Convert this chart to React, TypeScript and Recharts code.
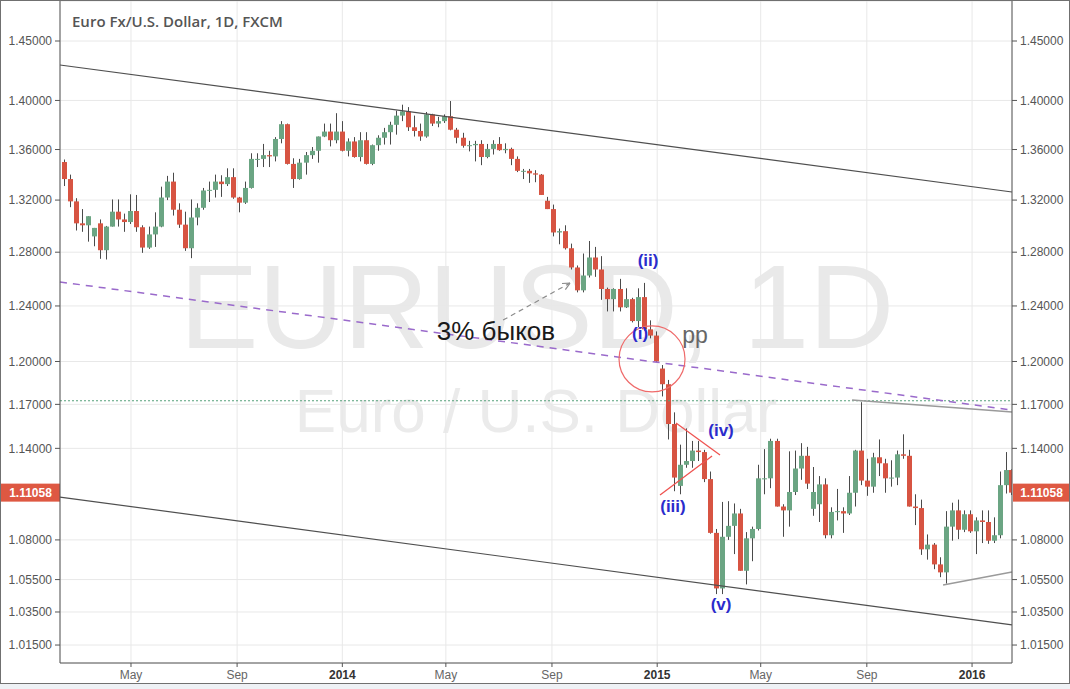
import React from 'react';
import { ComposedChart, Bar, XAxis, YAxis, CartesianGrid, ReferenceLine, ReferenceDot } from 'recharts';

// Weekly candles (week starting Monday), first week 2013-02-11, last week 2016-02-15
const opens = [
  // 2013
  1.3500, 1.3365, 1.3190, 1.3020, 1.3005, 1.2920, 1.3020, 1.2815, 1.2995, 1.3110,
  1.3050, 1.3030, 1.3115, 1.2990, 1.2835, 1.2935, 1.2995, 1.3220, 1.3345, 1.3125,
  1.3010, 1.2830, 1.3065, 1.3140, 1.3275, 1.3280, 1.3345, 1.3325, 1.3380, 1.3220,
  1.3180, 1.3295, 1.3525, 1.3525, 1.3555, 1.3545, 1.3685, 1.3805, 1.3485, 1.3365,
  1.3495, 1.3555, 1.3590, 1.3705, 1.3745, 1.3675, 1.3745,
  // 2014
  1.3590, 1.3665, 1.3540, 1.3675, 1.3485, 1.3635, 1.3695, 1.3740, 1.3800, 1.3875,
  1.3910, 1.3780, 1.3750, 1.3705, 1.3885, 1.3810, 1.3830, 1.3870, 1.3760, 1.3695,
  1.3630, 1.3635, 1.3645, 1.3540, 1.3605, 1.3645, 1.3595, 1.3605, 1.3525, 1.3430,
  1.3430, 1.3410, 1.3400, 1.3195, 1.3130, 1.2950, 1.2960, 1.2830, 1.2685, 1.2515,
  1.2625, 1.2760, 1.2670, 1.2525, 1.2450, 1.2525, 1.2390, 1.2450, 1.2290, 1.2465,
  1.2230, 1.2185,
  // 2015
  1.1950, 1.1840, 1.1565, 1.1150, 1.1290, 1.1315, 1.1385, 1.1375, 1.1195, 1.0845,
  1.0495, 1.0820, 1.0890, 1.0970, 1.0605, 1.0810, 1.0870, 1.1200, 1.1200, 1.1450,
  1.1015, 1.0990, 1.1110, 1.1265, 1.1350, 1.1000, 1.1030, 1.1160, 1.0830, 1.0980,
  1.0985, 1.0970, 1.1105, 1.1385, 1.1185, 1.1145, 1.1340, 1.1300, 1.1200, 1.1205,
  1.1360, 1.1350, 1.1015, 1.1005, 1.0740, 1.0770, 1.0645, 1.0595, 1.0885, 1.0990,
  1.0865, 1.0965,
  // 2016
  1.0855, 1.0925, 1.0915, 1.0795, 1.0830, 1.1155, 1.1255,
];

const highs = [
  // 2013
  1.3520, 1.3400, 1.3215, 1.3130, 1.3075, 1.2985, 1.3050, 1.3000, 1.3205, 1.3205,
  1.3095, 1.3245, 1.3240, 1.3005, 1.2995, 1.3105, 1.3305, 1.3390, 1.3415, 1.3175,
  1.3110, 1.3205, 1.3175, 1.3295, 1.3345, 1.3400, 1.3395, 1.3450, 1.3450, 1.3225,
  1.3345, 1.3570, 1.3570, 1.3645, 1.3590, 1.3700, 1.3830, 1.3810, 1.3530, 1.3525,
  1.3580, 1.3620, 1.3705, 1.3810, 1.3810, 1.3895, 1.3830,
  // 2014
  1.3690, 1.3700, 1.3740, 1.3740, 1.3640, 1.3715, 1.3775, 1.3825, 1.3915, 1.3965,
  1.3945, 1.3875, 1.3810, 1.3905, 1.3890, 1.3865, 1.3885, 1.3995, 1.3775, 1.3735,
  1.3670, 1.3670, 1.3675, 1.3645, 1.3675, 1.3700, 1.3650, 1.3615, 1.3545, 1.3445,
  1.3445, 1.3435, 1.3405, 1.3225, 1.3165, 1.2980, 1.3005, 1.2865, 1.2700, 1.2790,
  1.2885, 1.2840, 1.2770, 1.2535, 1.2530, 1.2600, 1.2530, 1.2460, 1.2530, 1.2570,
  1.2295, 1.2215,
  // 2015
  1.1975, 1.1870, 1.1645, 1.1425, 1.1535, 1.1450, 1.1450, 1.1390, 1.1245, 1.0870,
  1.1045, 1.1050, 1.1035, 1.1000, 1.0850, 1.0885, 1.1290, 1.1395, 1.1465, 1.1465,
  1.1030, 1.1380, 1.1385, 1.1435, 1.1410, 1.1275, 1.1215, 1.1200, 1.1010, 1.1130,
  1.1010, 1.1215, 1.1390, 1.1715, 1.1330, 1.1370, 1.1460, 1.1330, 1.1320, 1.1385,
  1.1495, 1.1390, 1.1095, 1.1060, 1.0835, 1.0780, 1.0690, 1.0985, 1.1040, 1.1060,
  1.0990, 1.0990,
  // 2016
  1.0945, 1.0990, 1.0990, 1.0945, 1.1245, 1.1375, 1.1260,
];

const lows = [
  // 2013
  1.3310, 1.3145, 1.2965, 1.2955, 1.2880, 1.2845, 1.2750, 1.2745, 1.2995, 1.2995,
  1.2955, 1.3015, 1.2955, 1.2795, 1.2825, 1.2840, 1.2990, 1.3200, 1.3080, 1.2985,
  1.2810, 1.2755, 1.3005, 1.3125, 1.3185, 1.3220, 1.3225, 1.3310, 1.3210, 1.3105,
  1.3170, 1.3290, 1.3460, 1.3460, 1.3460, 1.3505, 1.3650, 1.3480, 1.3295, 1.3360,
  1.3400, 1.3525, 1.3495, 1.3700, 1.3625, 1.3650, 1.3585,
  // 2014
  1.3545, 1.3535, 1.3505, 1.3480, 1.3475, 1.3590, 1.3640, 1.3640, 1.3720, 1.3830,
  1.3750, 1.3705, 1.3670, 1.3695, 1.3790, 1.3780, 1.3815, 1.3755, 1.3650, 1.3615,
  1.3585, 1.3505, 1.3475, 1.3530, 1.3560, 1.3590, 1.3570, 1.3475, 1.3420, 1.3365,
  1.3335, 1.3340, 1.3240, 1.3130, 1.2920, 1.2860, 1.2820, 1.2670, 1.2500, 1.2500,
  1.2610, 1.2615, 1.2445, 1.2360, 1.2360, 1.2360, 1.2385, 1.2280, 1.2245, 1.2220,
  1.2165, 1.1995,
  // 2015
  1.1755, 1.1460, 1.1115, 1.1095, 1.1270, 1.1270, 1.1315, 1.1175, 1.0840, 1.0460,
  1.0460, 1.0800, 1.0710, 1.0605, 1.0520, 1.0665, 1.0860, 1.1095, 1.1135, 1.1015,
  1.0820, 1.0885, 1.1090, 1.1190, 1.1130, 1.0955, 1.0915, 1.0810, 1.0810, 1.0925,
  1.0845, 1.0960, 1.1015, 1.1155, 1.1085, 1.1105, 1.1215, 1.1105, 1.1145, 1.1155,
  1.1330, 1.1015, 1.0895, 1.0705, 1.0675, 1.0615, 1.0565, 1.0525, 1.0795, 1.0805,
  1.0850, 1.0845,
  // 2016
  1.0710, 1.0780, 1.0775, 1.0780, 1.0810, 1.1100, 1.1090,
];

const closes = [
  // 2013
  1.3365, 1.3190, 1.3020, 1.3005, 1.3075, 1.2985, 1.2815, 1.2995, 1.3110, 1.3050,
  1.3030, 1.3115, 1.2990, 1.2835, 1.2935, 1.2995, 1.3220, 1.3345, 1.3125, 1.3010,
  1.2830, 1.3065, 1.3140, 1.3275, 1.3280, 1.3345, 1.3325, 1.3380, 1.3220, 1.3180,
  1.3295, 1.3525, 1.3525, 1.3555, 1.3545, 1.3685, 1.3805, 1.3485, 1.3365, 1.3495,
  1.3555, 1.3590, 1.3705, 1.3745, 1.3675, 1.3745, 1.3590,
  // 2014
  1.3665, 1.3540, 1.3675, 1.3485, 1.3635, 1.3695, 1.3740, 1.3800, 1.3875, 1.3910,
  1.3780, 1.3750, 1.3705, 1.3885, 1.3810, 1.3830, 1.3870, 1.3760, 1.3695, 1.3630,
  1.3635, 1.3645, 1.3540, 1.3605, 1.3645, 1.3595, 1.3605, 1.3525, 1.3430, 1.3430,
  1.3410, 1.3400, 1.3240, 1.3130, 1.2950, 1.2960, 1.2830, 1.2685, 1.2515, 1.2625,
  1.2760, 1.2670, 1.2525, 1.2450, 1.2525, 1.2390, 1.2450, 1.2290, 1.2465, 1.2230,
  1.2185, 1.2000,
  // 2015
  1.1840, 1.1565, 1.1205, 1.1290, 1.1315, 1.1385, 1.1375, 1.1195, 1.0845, 1.0495,
  1.0820, 1.0890, 1.0970, 1.0605, 1.0810, 1.0870, 1.1200, 1.1200, 1.1450, 1.1015,
  1.0990, 1.1110, 1.1265, 1.1350, 1.1165, 1.1110, 1.1160, 1.0830, 1.0980, 1.0985,
  1.0970, 1.1105, 1.1385, 1.1185, 1.1145, 1.1340, 1.1300, 1.1200, 1.1205, 1.1360,
  1.1350, 1.1015, 1.1005, 1.0740, 1.0770, 1.0645, 1.0595, 1.0885, 1.0990, 1.0865,
  1.0965, 1.0855,
  // 2016
  1.0925, 1.0915, 1.0795, 1.0830, 1.1155, 1.1255, 1.11058,
];

// axis ticks
const priceTicks = [1.015, 1.035, 1.055, 1.08, 1.14, 1.17, 1.2, 1.24, 1.28, 1.32, 1.36, 1.4, 1.45];
const monthTickDays = [120, 243, 365, 485, 608, 730, 850, 973, 1095]; // days since 2013-01-01
const monthTickLabels = ['May', 'Sep', '2014', 'May', 'Sep', '2015', 'May', 'Sep', '2016'];
const lastPrice = 1.11058;

const X_DOMAIN: [number, number] = [37.7, 1141.3];
const Y_DOMAIN: [number, number] = [1.00429, 1.48467];
const FIRST_MONDAY = 41; // 2013-02-11

// drawing annotations (day, price)
const upperChannel = [{ x: 37.7, y: 1.4296 }, { x: 1141.3, y: 1.3263 }];
const lowerChannel = [{ x: 37.7, y: 1.1077 }, { x: 1141.3, y: 1.0271 }];
const purpleLine = [{ x: 37.7, y: 1.2577 }, { x: 1141.3, y: 1.1661 }];
const greenLevel = 1.1725;
const grayTop = [{ x: 955.9, y: 1.173 }, { x: 1141.3, y: 1.1647 }];
const grayBottom = [{ x: 1061.4, y: 1.0516 }, { x: 1141.3, y: 1.0597 }];
const triUpper = [{ x: 751.8, y: 1.1572 }, { x: 802.8, y: 1.1355 }];
const triLower = [{ x: 733.3, y: 1.109 }, { x: 793.6, y: 1.1349 }];
const arrowSeg = [{ x: 551.3, y: 1.2297 }, { x: 628.9, y: 1.2569 }];
const circleCenter = { x: 724.0, y: 1.2018 };
const waveLabels = [
  { text: '(ii)', x: 719.4, y: 1.2734 },
  { text: '(i)', x: 710.1, y: 1.2203 },
  { text: '(iii)', x: 748.3, y: 1.1012 },
  { text: '(iv)', x: 804.0, y: 1.1524 },
  { text: '(v)', x: 804.0, y: 1.0393 },
];
const bullsNote = { text: '3% быков', x: 543.1, y: 1.2218 };
const ppNote = { text: 'pp', x: 773.9, y: 1.2189 };

const data = closes.map((c, i) => ({
  day: Math.min(FIRST_MONDAY + 2 + 7 * i, 1141),
  open: opens[i],
  high: highs[i],
  low: lows[i],
  close: c,
  range: [lows[i], highs[i]],
}));

const UP = '#6ba583';
const DOWN = '#d75442';
const WICK = '#4a4a4a';
const TAG = '#de5842';
const AXIS_FONT = "'Liberation Sans', Arial, sans-serif";

function Candle(props: any) {
  const { x, y, width, height, payload } = props;
  if (x == null || y == null || !payload) return null;
  const top = height < 0 ? y + height : y;
  const h = Math.abs(height);
  const lh = Math.log(payload.high);
  const ll = Math.log(payload.low);
  const span = lh - ll || 1e-9;
  const py = (v: number) => top + (h * (lh - Math.log(v))) / span;
  const yo = py(payload.open);
  const yc = py(payload.close);
  const up = payload.close >= payload.open;
  const bt = Math.min(yo, yc);
  const bh = Math.max(1, Math.abs(yc - yo));
  const rx = Math.round(x);
  const cx = rx + Math.floor(width / 2) + 0.5;
  return (
    <g>
      <line x1={cx} x2={cx} y1={top} y2={top + h} stroke={WICK} strokeWidth={1} />
      <rect x={rx} y={bt} width={width} height={bh} fill={up ? UP : DOWN} />
    </g>
  );
}

function MonthTick(p: any) {
  const { x, y, payload } = p;
  const i = monthTickDays.indexOf(payload.value);
  const label = i >= 0 ? monthTickLabels[i] : '';
  const isYear = /^\d{4}$/.test(label);
  return (
    <text x={x} y={y} dy={10} textAnchor="middle" fontSize={12} fontFamily={AXIS_FONT}
      fill={isYear ? '#333' : '#666'} fontWeight={isYear ? 'bold' : 'normal'}>
      {label}
    </text>
  );
}

function PriceTags(p: any) {
  const y = p.y1;
  const xl = p.x1;
  const xr = p.x2;
  if (y == null) return null;
  return (
    <g>
      <rect x={1} y={y - 9} width={xl - 1} height={18} fill={TAG} />
      <text x={(xl + 1) / 2} y={y} dy="0.36em" textAnchor="middle" fill="#fff" fontSize={12}
        fontWeight="bold" fontFamily={AXIS_FONT}>{lastPrice.toFixed(5)}</text>
      <rect x={xr + 1} y={y - 9} width={57} height={18} fill={TAG} />
      <text x={xr + 29.5} y={y} dy="0.36em" textAnchor="middle" fill="#fff" fontSize={12}
        fontWeight="bold" fontFamily={AXIS_FONT}>{lastPrice.toFixed(5)}</text>
    </g>
  );
}

function ArrowShape(p: any) {
  const { x1, y1, x2, y2 } = p;
  if (x1 == null) return null;
  const a = Math.atan2(y2 - y1, x2 - x1);
  const L = 8;
  return (
    <g stroke="#8c8c8c" strokeWidth={1.2} fill="none">
      <line x1={x1} y1={y1} x2={x2} y2={y2} strokeDasharray="5 4" />
      <line x1={x2} y1={y2} x2={x2 - L * Math.cos(a - 0.45)} y2={y2 - L * Math.sin(a - 0.45)} />
      <line x1={x2} y1={y2} x2={x2 - L * Math.cos(a + 0.45)} y2={y2 - L * Math.sin(a + 0.45)} />
    </g>
  );
}

const textShape = (text: string, style: any) => (p: any) =>
  p.cx == null ? null : (
    <text x={p.cx} y={p.cy} textAnchor="middle" dominantBaseline="central" {...style}>{text}</text>
  );

export default function App() {
  return (
    <div style={{ position: 'absolute', left: 0, top: 0, width: 1070, height: 689, background: '#eef1f5', overflow: 'hidden' }}>
      <div style={{ position: 'absolute', left: 0, top: 0, width: 1070, height: 684, background: '#ffffff' }} />
      <svg width={1070} height={689} style={{ position: 'absolute', left: 0, top: 0 }}>
        <text x={537} y={348} textAnchor="middle" fontSize={118} fontFamily={AXIS_FONT} fill="#e9e9e9">EURUSD, 1D</text>
        <text x={536} y={432} textAnchor="middle" fontSize={62} fontFamily={AXIS_FONT} fill="#ebebeb">Euro / U.S. Dollar</text>
      </svg>
      <div style={{ position: 'absolute', left: 0, top: 0 }}>
        <ComposedChart width={1070} height={689} data={data} margin={{ top: 1, right: 0, bottom: 5, left: 0 }}>
          <CartesianGrid yAxisId="left" stroke="#e8e8e8" />
          <XAxis type="number" dataKey="day" domain={X_DOMAIN} allowDataOverflow ticks={monthTickDays}
            interval={0} tick={<MonthTick />} tickSize={4} height={21}
            axisLine={{ stroke: '#555' }} tickLine={{ stroke: '#555' }} />
          <YAxis yAxisId="left" orientation="left" scale="log" domain={Y_DOMAIN} allowDataOverflow
            ticks={priceTicks} interval={0} tickFormatter={(v: number) => v.toFixed(5)} width={60}
            tick={{ fontSize: 12, fill: '#555', fontFamily: AXIS_FONT }} tickSize={5} tickMargin={3}
            axisLine={{ stroke: '#555' }} tickLine={{ stroke: '#555' }} />
          <YAxis yAxisId="right" orientation="right" scale="log" domain={Y_DOMAIN} allowDataOverflow
            ticks={priceTicks} interval={0} tickFormatter={(v: number) => v.toFixed(5)} width={58}
            tick={{ fontSize: 12, fill: '#555', fontFamily: AXIS_FONT }} tickSize={5} tickMargin={3}
            axisLine={{ stroke: '#555' }} tickLine={{ stroke: '#555' }} />

          <ReferenceLine yAxisId="left" y={greenLevel} stroke="#55a07a" strokeDasharray="2 2" ifOverflow="visible" />
          <ReferenceLine yAxisId="left" segment={upperChannel} stroke="#4f4f4f" strokeWidth={1.2} ifOverflow="visible" />
          <ReferenceLine yAxisId="left" segment={lowerChannel} stroke="#4f4f4f" strokeWidth={1.2} ifOverflow="visible" />
          <ReferenceLine yAxisId="left" segment={purpleLine} stroke="#9a6acb" strokeWidth={1.5} strokeDasharray="7 6" ifOverflow="visible" />

          <Bar yAxisId="left" dataKey="range" barSize={5} shape={(p: any) => <Candle {...p} />} isAnimationActive={false} />

          <ReferenceLine yAxisId="left" segment={grayTop} stroke="#9a9a9a" strokeWidth={1.5} ifOverflow="visible" />
          <ReferenceLine yAxisId="left" segment={grayBottom} stroke="#9a9a9a" strokeWidth={1.5} ifOverflow="visible" />
          <ReferenceLine yAxisId="left" segment={triUpper} stroke="#ef5350" strokeWidth={1.3} ifOverflow="visible" />
          <ReferenceLine yAxisId="left" segment={triLower} stroke="#ef5350" strokeWidth={1.3} ifOverflow="visible" />
          <ReferenceLine yAxisId="left" segment={arrowSeg} ifOverflow="visible" shape={ArrowShape} />
          <ReferenceDot yAxisId="left" x={circleCenter.x} y={circleCenter.y} r={33} fill="none"
            stroke="#ef6a6a" strokeWidth={1.2} ifOverflow="visible" />

          {waveLabels.map((w) => (
            <ReferenceDot key={w.text} yAxisId="left" x={w.x} y={w.y} r={1} ifOverflow="visible"
              shape={textShape(w.text, { fill: '#2b2bcc', fontSize: 17, fontWeight: 'bold', fontFamily: AXIS_FONT })} />
          ))}
          <ReferenceDot yAxisId="left" x={bullsNote.x} y={bullsNote.y} r={1} ifOverflow="visible"
            shape={textShape(bullsNote.text, { fill: '#1a1a1a', fontSize: 26, fontFamily: AXIS_FONT })} />
          <ReferenceDot yAxisId="left" x={ppNote.x} y={ppNote.y} r={1} ifOverflow="visible"
            shape={textShape(ppNote.text, { fill: '#666', fontSize: 23, fontFamily: AXIS_FONT })} />

          <ReferenceLine yAxisId="left" y={lastPrice} ifOverflow="visible" shape={PriceTags} />
        </ComposedChart>
      </div>
      <svg width={1070} height={689} style={{ position: 'absolute', left: 0, top: 0, pointerEvents: 'none' }}>
        <text x={72} y={27} fontSize={15} fontWeight={600} fontFamily="'Open Sans', sans-serif" fill="#555">
          Euro Fx/U.S. Dollar, 1D, FXCM
        </text>
        <rect x={0.5} y={0.5} width={1069} height={683} fill="none" stroke="#707070" />
      </svg>
    </div>
  );
}
